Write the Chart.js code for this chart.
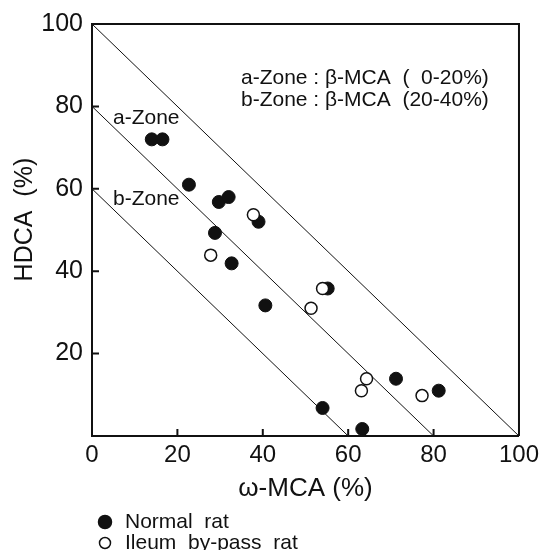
<!DOCTYPE html>
<html>
<head>
<meta charset="utf-8">
<script src="https://cdn.jsdelivr.net/npm/chart.js@4.4.1/dist/chart.umd.min.js"></script>
<style>
  html, body { margin: 0; padding: 0; background: #fff; }
  #wrap { width: 544px; height: 550px; }
</style>
</head>
<body>
<div id="wrap"><canvas id="grafico" width="544" height="550"></canvas></div>
<script>
// Dados: ω-MCA (x) e HDCA (y), em %
const normalX = [14, 16.5, 22.7, 29.7, 32, 28.8, 39, 32.7, 40.6, 55.2, 71.2, 81.2, 54, 63.3];
const normalY = [72, 72, 61, 56.8, 58, 49.3, 52, 41.9, 31.7, 35.8, 13.9, 11, 6.8, 1.7];
const ileoX = [37.8, 27.8, 54, 51.3, 64.3, 63.1, 77.3];
const ileoY = [53.7, 43.9, 35.8, 31, 13.9, 11, 9.8];

// Retas das zonas (x + y = constante)
const zonaLimites = [100, 80, 60];

const xTicks = [0, 20, 40, 60, 80, 100];
const yTicks = [20, 40, 60, 80, 100];

const legendaNomes = ['Normal  rat', 'Ileum  by-pass  rat'];
const notas = ['a-Zone : β-MCA  (  0-20%)', 'b-Zone : β-MCA  (20-40%)'];
const rotulosZona = ['a-Zone', 'b-Zone'];

const fonte = '"Liberation Sans", Arial, Helvetica, sans-serif';
const preto = '#111';

const pontos = (xs, ys) => xs.map((x, i) => ({ x: x, y: ys[i] }));

const retas = zonaLimites.map(c => ({
    type: 'line',
    data: [{ x: 0, y: c }, { x: c, y: 0 }],
    borderColor: preto,
    borderWidth: 1,
    pointRadius: 0,
    fill: false,
    order: 3
}));

// Moldura superior/direita, marcas internas, textos e legenda
const extras = {
    id: 'extras',
    afterDraw(chart) {
        const c = chart.ctx;
        const a = chart.chartArea;
        const sx = chart.scales.x, sy = chart.scales.y;
        c.save();
        c.strokeStyle = preto;
        c.lineWidth = 2;
        c.beginPath();
        c.moveTo(a.left, a.top);
        c.lineTo(a.right, a.top);
        c.lineTo(a.right, a.bottom);
        c.stroke();
        // marcas para dentro
        c.beginPath();
        yTicks.slice(0, -1).forEach(v => {
            const py = sy.getPixelForValue(v);
            c.moveTo(a.left, py);
            c.lineTo(a.left + 7, py);
        });
        xTicks.slice(1, -1).forEach(v => {
            const px = sx.getPixelForValue(v);
            c.moveTo(px, a.bottom);
            c.lineTo(px, a.bottom - 7);
        });
        c.stroke();

        c.fillStyle = preto;
        c.textBaseline = 'middle';
        c.textAlign = 'left';
        c.font = '21px ' + fonte;
        c.fillText(notas[0], 241, 78);
        c.fillText(notas[1], 241, 100);
        c.font = '21px ' + fonte;
        c.fillText(rotulosZona[0], 113, 118);
        c.fillText(rotulosZona[1], 113, 199);

        // legenda
        c.font = '21px ' + fonte;
        const ds = chart.data.datasets;
        [0, 1].forEach(i => {
            const y = 522 + i * 21;
            c.beginPath();
            c.arc(105, y, i === 0 ? 6.5 : 5.5, 0, Math.PI * 2);
            c.fillStyle = ds[i].backgroundColor;
            c.fill();
            c.lineWidth = 1.5;
            c.strokeStyle = preto;
            c.stroke();
            c.fillStyle = preto;
            c.fillText(legendaNomes[i], 125, y);
        });
        c.restore();
    }
};

const ctx = document.getElementById('grafico').getContext('2d');
const grafico = new Chart(ctx, {
    type: 'scatter',
    data: {
        datasets: [
            {
                label: legendaNomes[0],
                data: pontos(normalX, normalY),
                backgroundColor: preto,
                borderColor: preto,
                borderWidth: 1,
                pointRadius: 6.5,
                clip: false,
                order: 2
            },
            {
                label: legendaNomes[1],
                data: pontos(ileoX, ileoY),
                backgroundColor: '#fff',
                borderColor: preto,
                borderWidth: 1.5,
                pointRadius: 6,
                clip: false,
                order: 1
            },
            ...retas
        ]
    },
    options: {
        responsive: false,
        animation: false,
        events: [],
        layout: { padding: { top: 24, right: 21, left: 0, bottom: 0 } },
        plugins: {
            legend: { display: false },
            tooltip: { enabled: false }
        },
        scales: {
            x: {
                type: 'linear',
                min: 0,
                max: 100,
                afterFit: s => { s.height = 114; },
                afterBuildTicks: s => { s.ticks = xTicks.map(v => ({ value: v })); },
                grid: { display: false, drawTicks: false },
                border: { display: true, color: preto, width: 2 },
                ticks: { color: preto, padding: 5, font: { family: fonte, size: 24 } },
                title: {
                    display: true,
                    text: 'ω-MCA (%)',
                    color: preto,
                    font: { family: fonte, size: 26 },
                    padding: { top: 0, bottom: 46 }
                }
            },
            y: {
                type: 'linear',
                min: 0,
                max: 100,
                afterFit: s => { s.width = 92; },
                afterBuildTicks: s => { s.ticks = yTicks.map(v => ({ value: v })); },
                grid: { display: false, drawTicks: false },
                border: { display: true, color: preto, width: 2 },
                ticks: { color: preto, padding: 9, font: { family: fonte, size: 25 } },
                title: {
                    display: true,
                    text: '   HDCA  (%)',
                    color: preto,
                    font: { family: fonte, size: 25 },
                    padding: { top: 10, bottom: 0 }
                }
            }
        }
    },
    plugins: [extras]
});
</script>
</body>
</html>
